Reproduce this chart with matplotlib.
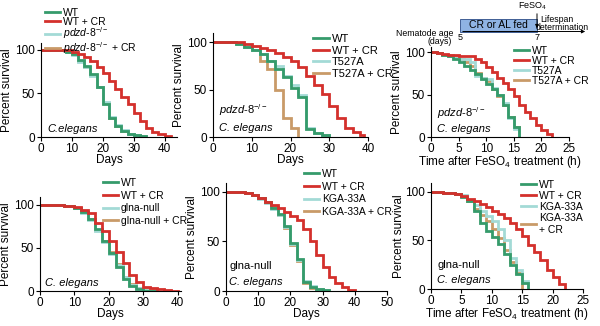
import matplotlib.pyplot as plt
from matplotlib.patches import Rectangle

plt.rcParams['font.family'] = ['Liberation Sans', 'DejaVu Sans']
plt.rcParams['mathtext.fontset'] = 'custom'
plt.rcParams['mathtext.rm'] = 'Liberation Sans'
plt.rcParams['mathtext.it'] = 'Liberation Sans:italic'
plt.rcParams['font.size'] = 8

GREEN = '#359b6b'
RED = '#d4302c'
CYAN = '#a3dad6'
TAN = '#c99a68'

# ---- data ----
# panel A: pdzd-8 lifespan (days)
a_days = [0, 8, 10, 12, 14, 16, 18, 20, 22, 24, 26, 28, 30, 32, 34]
a_wt = [100, 98, 95, 88, 82, 72, 58, 38, 22, 13, 7, 4, 2, 1, 0]
a_mut = [100, 98, 94, 86, 80, 70, 57, 40, 23, 14, 8, 4, 2, 1, 0]
a_mut_cr = [100, 98, 95, 87, 81, 71, 58, 39, 22, 13, 7, 4, 2, 1, 0]
a_cr_days = [0, 10, 12, 14, 16, 18, 20, 22, 24, 26, 28, 30, 32, 34, 36, 38, 40, 42]
a_wt_cr = [100, 98, 95, 92, 87, 80, 73, 64, 55, 46, 38, 28, 18, 10, 6, 3, 1, 0]

# panel B: T527A rescue (days)
b_days = [0, 6, 8, 10, 12, 14, 16, 18, 20, 22, 24, 26, 28, 30]
b_wt = [100, 98, 95, 92, 88, 80, 72, 63, 52, 42, 8, 4, 2, 0]
b_mut = [100, 98, 95, 92, 88, 80, 75, 65, 55, 44, 9, 4, 2, 0]
b_mut_cr_days = [0, 6, 8, 10, 12, 14, 16, 18, 20, 22]
b_mut_cr = [100, 98, 95, 92, 80, 72, 50, 20, 10, 0]
b_cr_days = [0, 8, 10, 12, 14, 16, 18, 20, 22, 24, 26, 28, 30, 32, 34, 36, 38, 39]
b_wt_cr = [100, 98, 96, 94, 92, 89, 85, 80, 74, 65, 55, 45, 33, 20, 10, 5, 2, 0]

# panel C: FeSO4 survival, pdzd-8 (hours)
c_hours = [0, 1, 2, 3, 4, 5, 6, 7, 8, 9, 10, 11, 12, 13, 14, 15, 16]
c_wt = [100, 99, 97, 95, 92, 88, 84, 79, 74, 68, 63, 56, 50, 38, 24, 12, 0]
c_mut = [100, 99, 97, 95, 93, 92, 92, 88, 72, 70, 68, 58, 50, 40, 22, 10, 0]
c_mut_cr = [100, 99, 97, 96, 95, 92, 88, 84, 75, 70, 66, 56, 48, 38, 24, 12, 0]
c_cr_hours = [0, 1, 2, 3, 4, 5, 8, 9, 10, 11, 12, 13, 14, 15, 16, 17, 18, 19, 20, 21, 22]
c_wt_cr = [100, 99, 98, 97, 96, 95, 92, 88, 82, 76, 70, 64, 56, 48, 38, 30, 22, 14, 8, 3, 0]

# panel D: glna-null lifespan (days)
d_days = [0, 7, 8, 10, 12, 14, 16, 18, 20, 22, 24, 26, 28, 30, 32, 34]
d_wt = [100, 99, 98, 96, 92, 84, 72, 58, 44, 28, 14, 6, 2, 0, 0, 0]
d_mut = [100, 99, 98, 96, 91, 82, 70, 57, 43, 30, 16, 7, 3, 1, 0, 0]
d_mut_cr = [100, 99, 98, 96, 92, 83, 71, 58, 45, 31, 16, 8, 3, 2, 1, 0]
d_cr_days = [0, 7, 10, 12, 14, 16, 18, 20, 22, 24, 26, 28, 30, 32, 34, 36, 38, 40]
d_wt_cr = [100, 99, 97, 94, 90, 79, 70, 58, 45, 32, 18, 10, 5, 3, 2, 1, 0.5, 0]

# panel E: KGA-33A rescue (days)
e_days = [0, 6, 8, 10, 12, 14, 16, 18, 20, 22, 24, 26, 28, 30, 32]
e_wt = [100, 99, 97, 94, 90, 84, 78, 66, 48, 32, 9, 4, 2, 1, 0]
e_mut = [100, 99, 97, 93, 89, 83, 77, 65, 47, 31, 10, 5, 2, 1, 0]
e_mut_cr = [100, 99, 97, 94, 90, 85, 77, 64, 46, 30, 8, 3, 1, 0, 0]
e_cr_days = [0, 6, 8, 10, 12, 14, 16, 18, 20, 22, 24, 26, 28, 30, 32, 34, 36, 38, 40]
e_wt_cr = [100, 99, 97, 94, 90, 87, 84, 80, 76, 72, 63, 50, 36, 24, 14, 8, 4, 1, 0]

# panel F: FeSO4 survival, glna-null (hours)
f_hours = [0, 1, 2, 3, 4, 5, 6, 7, 8, 9, 10, 11, 12, 13, 14, 15, 16]
f_wt = [100, 100, 99, 99, 98, 95, 90, 80, 68, 60, 53, 46, 36, 25, 15, 6, 0]
f_mut = [100, 100, 99, 99, 98, 97, 92, 86, 80, 75, 70, 62, 50, 32, 20, 8, 0]
f_mut_cr_hours = [0, 1, 2, 3, 4, 5, 6, 7, 8, 9, 10, 11, 12, 13, 14, 15]
f_mut_cr = [100, 100, 99, 99, 98, 96, 90, 82, 76, 70, 62, 52, 40, 28, 16, 0]
f_cr_hours = [0, 2, 4, 5, 6, 7, 8, 9, 10, 11, 12, 13, 14, 15, 16, 17, 18, 19, 20, 21, 22]
f_wt_cr = [100, 99, 98, 96, 93, 90, 87, 84, 80, 77, 73, 68, 62, 54, 45, 38, 30, 20, 12, 5, 0]

PDZD = r'$\mathit{pdzd}$-$\mathit{8}^{-/-}$'

W, H = 600, 326
fig = plt.figure(figsize=(W / 100, H / 100), dpi=100)


def px_axes(left, right, top, bottom):
    """Axes from pixel edges (y counted from the top)."""
    return fig.add_axes([left / W, 1 - bottom / H, (right - left) / W, (bottom - top) / H])


def px(x, y):
    return (x / W, 1 - y / H)


def survival_panel(ax, curves, xlim, ylim, xticks, xlabel):
    for x, y, color, label in curves:
        ax.step(x, y, where='post', color=color, lw=2.0, label=label,
                solid_joinstyle='miter')
    ax.set_xlim(*xlim)
    ax.set_ylim(0, ylim)
    ax.set_xticks(xticks)
    ax.set_yticks([0, 50, 100])
    ax.spines['top'].set_visible(False)
    ax.spines['right'].set_visible(False)
    ax.tick_params(length=3, width=0.8, pad=1.5, labelsize=8.5)
    ax.set_xlabel(xlabel, fontsize=8.5, labelpad=-1)
    ax.set_ylabel('Percent survival', fontsize=8.5, labelpad=1)


def place_legend(ax, x, y, order, spacing=0.15, size=7.5):
    handles, labels = ax.get_legend_handles_labels()
    lookup = dict(zip(labels, handles))
    ax.legend([lookup[k] for k in order], order, loc='upper left',
              bbox_to_anchor=px(x, y), bbox_transform=fig.transFigure,
              frameon=False, borderpad=0, borderaxespad=0, handlelength=1.4,
              handletextpad=0.3, labelspacing=spacing, fontsize=size)


# panel A
ax1 = px_axes(41, 177, 43, 137)
survival_panel(ax1, [(a_days, a_mut_cr, TAN, PDZD + ' + CR'),
                     (a_days, a_mut, CYAN, PDZD),
                     (a_days, a_wt, GREEN, 'WT'),
                     (a_cr_days, a_wt_cr, RED, 'WT + CR')],
               (0, 44), 108, [0, 10, 20, 30, 40], 'Days')
place_legend(ax1, 45, 8, ['WT', 'WT + CR', PDZD, PDZD + ' + CR'], spacing=-0.12)
ax1.text(2, 6, 'C.elegans', style='italic', fontsize=8)

# panel B
ax2 = px_axes(213, 368, 33, 137)
survival_panel(ax2, [(b_mut_cr_days, b_mut_cr, TAN, 'T527A + CR'),
                     (b_days, b_mut, CYAN, 'T527A'),
                     (b_days, b_wt, GREEN, 'WT'),
                     (b_cr_days, b_wt_cr, RED, 'WT + CR')],
               (0, 40), 110, [0, 10, 20, 30, 40], 'Days')
place_legend(ax2, 313, 34, ['WT', 'WT + CR', 'T527A', 'T527A + CR'], spacing=0.15, size=8)
ax2.text(1.5, 24, PDZD, fontsize=8)
ax2.text(1.5, 6, 'C. elegans', style='italic', fontsize=8)

# panel C
ax3 = px_axes(431, 569, 47, 137)
survival_panel(ax3, [(c_hours, c_mut_cr, TAN, 'T527A + CR'),
                     (c_hours, c_mut, CYAN, 'T527A'),
                     (c_hours, c_wt, GREEN, 'WT'),
                     (c_cr_hours, c_wt_cr, RED, 'WT + CR')],
               (0, 25), 106, [0, 5, 10, 15, 20, 25], r'Time after FeSO$_4$ treatment (h)')
place_legend(ax3, 514, 46, ['WT', 'WT + CR', 'T527A', 'T527A + CR'], spacing=0.0)
ax3.text(1, 24, PDZD, fontsize=8)
ax3.text(1, 6, 'C. elegans', style='italic', fontsize=8)

# panel D
ax4 = px_axes(40, 181, 197, 291)
survival_panel(ax4, [(d_days, d_mut_cr, TAN, 'glna-null + CR'),
                     (d_days, d_mut, CYAN, 'glna-null'),
                     (d_days, d_wt, GREEN, 'WT'),
                     (d_cr_days, d_wt_cr, RED, 'WT + CR')],
               (0, 41), 109, [0, 10, 20, 30, 40], 'Days')
place_legend(ax4, 103, 178, ['WT', 'WT + CR', 'glna-null', 'glna-null + CR'], spacing=0.25)
ax4.text(1.5, 6, 'C. elegans', style='italic', fontsize=8)

# panel E
ax5 = px_axes(226, 387, 183, 291)
survival_panel(ax5, [(e_days, e_mut_cr, TAN, 'KGA-33A + CR'),
                     (e_days, e_mut, CYAN, 'KGA-33A'),
                     (e_days, e_wt, GREEN, 'WT'),
                     (e_cr_days, e_wt_cr, RED, 'WT + CR')],
               (0, 50), 109, [0, 10, 20, 30, 40, 50], 'Days')
place_legend(ax5, 304, 169, ['WT', 'WT + CR', 'KGA-33A', 'KGA-33A + CR'], spacing=0.25)
ax5.text(1, 22, 'glna-null', fontsize=8)
ax5.text(1, 6, 'C. elegans', style='italic', fontsize=8)

# panel F
ax6 = px_axes(431, 583, 183, 289)
survival_panel(ax6, [(f_mut_cr_hours, f_mut_cr, TAN, 'KGA-33A\n+ CR'),
                     (f_hours, f_mut, CYAN, 'KGA-33A'),
                     (f_hours, f_wt, GREEN, 'WT'),
                     (f_cr_hours, f_wt_cr, RED, 'WT + CR')],
               (0, 25), 109, [0, 5, 10, 15, 20, 25], r'Time after FeSO$_4$ treatment (h)')
ax6.yaxis.set_label_coords(-0.17, 0.5)
place_legend(ax6, 521, 180, ['WT', 'WT + CR', 'KGA-33A', 'KGA-33A\n+ CR'], spacing=0.1)
ax6.text(1, 22, 'glna-null', fontsize=8)
ax6.text(1, 6, 'C. elegans', style='italic', fontsize=8)

# schematic above panel C (pixel coordinates)
over = fig.add_axes([0, 0, 1, 1])
over.set_xlim(0, W)
over.set_ylim(H, 0)
over.axis('off')
over.add_patch(Rectangle((460, 19), 77, 12.5, fc='#8fb3e3', ec='#2b4c86', lw=0.6))
over.text(498, 25.5, 'CR or AL fed', ha='center', va='center', fontsize=7.5)
over.annotate('', xy=(588, 31.5), xytext=(460, 31.5),
              arrowprops=dict(arrowstyle='-|>', lw=0.7, color='k', mutation_scale=5))
over.annotate('', xy=(537, 31), xytext=(537, 11),
              arrowprops=dict(arrowstyle='-|>', lw=0.7, color='k', mutation_scale=5))
over.text(533, 6, r'FeSO$_4$', ha='center', va='center', fontsize=6.5)
over.text(540, 19.5, 'Lifespan', ha='left', va='center', fontsize=6.3)
over.text(536, 27.5, 'determination', ha='left', va='center', fontsize=6.3)
over.text(396, 34, 'Nematode age', ha='left', va='center', fontsize=6.3)
over.text(428, 42, '(days)', ha='left', va='center', fontsize=6.3)
over.text(460, 38, '5', ha='center', va='center', fontsize=6.5)
over.text(537, 38, '7', ha='center', va='center', fontsize=6.5)

fig.savefig('out.png', dpi=100)
